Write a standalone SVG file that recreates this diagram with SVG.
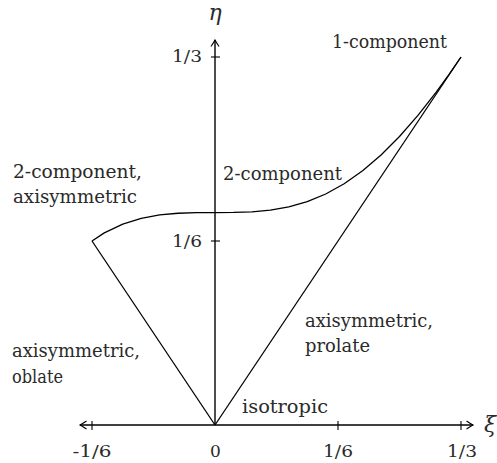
<svg xmlns="http://www.w3.org/2000/svg" width="497" height="463" viewBox="0 0 497 463">
<defs>
<style>
.ln{fill:none;stroke:#000;stroke-width:1.3;stroke-linejoin:round}
.ax{fill:none;stroke:#000;stroke-width:1.4}
.tk{fill:none;stroke:#000;stroke-width:1.1}
.t{font-family:'DejaVu Serif','Liberation Serif',serif;fill:#2a2a2a}
.lb{font-size:19px}
.nm{font-size:17px}
.sym{font-size:22px;font-style:italic}
</style>
<marker id="arr" viewBox="-8 -5 10 10" refX="0" refY="0" markerWidth="10" markerHeight="10" markerUnits="userSpaceOnUse" orient="auto-start-reverse">
<path d="M-6.5,-4 Q-2,-1 0,0 Q-2,1 -6.5,4" fill="none" stroke="#000" stroke-width="1.1"/>
</marker>
</defs>
<rect width="497" height="463" fill="#fff"/>
<g id="axes">
<line class="ax" x1="80" y1="425" x2="473" y2="425" marker-start="url(#arr)" marker-end="url(#arr)"/>
<line class="ax" x1="215" y1="425" x2="215" y2="40" marker-end="url(#arr)"/>
<g id="ticks">
<line class="tk" x1="92" y1="421" x2="92" y2="430"/>
<line class="tk" x1="338" y1="421" x2="338" y2="430"/>
<line class="tk" x1="461" y1="421" x2="461" y2="430"/>
<line class="tk" x1="211" y1="241" x2="220" y2="241"/>
<line class="tk" x1="211" y1="57" x2="220" y2="57"/>
</g>
<text class="t nm" x="92" y="457" text-anchor="middle" textLength="39" lengthAdjust="spacingAndGlyphs">-1/6</text>
<text class="t nm" x="215.5" y="457" text-anchor="middle">0</text>
<text class="t nm" x="338" y="457" text-anchor="middle" textLength="30" lengthAdjust="spacingAndGlyphs">1/6</text>
<text class="t nm" x="462" y="457" text-anchor="middle" textLength="30" lengthAdjust="spacingAndGlyphs">1/3</text>
<text class="t nm" x="202" y="247" text-anchor="end" textLength="30" lengthAdjust="spacingAndGlyphs">1/6</text>
<text class="t nm" x="202" y="62" text-anchor="end" textLength="30" lengthAdjust="spacingAndGlyphs">1/3</text>
<text class="t sym" x="484" y="432">ξ</text>
<text class="t sym" x="215" y="20" text-anchor="middle" font-size="20">η</text>
</g>
<g id="connectors">
<line class="ln" x1="215" y1="425" x2="92" y2="241"/>
<line class="ln" x1="215" y1="425" x2="461" y2="57"/>
<polyline class="ln" points="92,241 104.3,232.9 122.75,224.05 141.2,218.35 159.65,214.97 178.1,213.25 196.55,212.62 215,212.53 233.45,212.45 251.9,211.82 270.35,210.13 288.8,206.87 307.25,201.61 325.7,193.99 344.15,183.74 362.6,170.75 381.05,154.98 399.5,136.5 417.95,115.42 436.4,91.9 448.7,74.92 461,57"/>
</g>
<g id="labels">
<text class="t lb" x="332" y="48" textLength="115" lengthAdjust="spacingAndGlyphs">1-component</text>
<text class="t lb" x="223" y="180" textLength="119" lengthAdjust="spacingAndGlyphs">2-component</text>
<text class="t lb" x="13" y="178" textLength="129" lengthAdjust="spacingAndGlyphs">2-component,</text>
<text class="t lb" x="13" y="203" textLength="124" lengthAdjust="spacingAndGlyphs">axisymmetric</text>
<text class="t lb" x="12" y="357" textLength="128" lengthAdjust="spacingAndGlyphs">axisymmetric,</text>
<text class="t lb" x="12" y="383" textLength="51" lengthAdjust="spacingAndGlyphs">oblate</text>
<text class="t lb" x="305" y="327" textLength="128" lengthAdjust="spacingAndGlyphs">axisymmetric,</text>
<text class="t lb" x="305" y="352" textLength="65" lengthAdjust="spacingAndGlyphs">prolate</text>
<text class="t lb" x="242" y="413" textLength="86" lengthAdjust="spacingAndGlyphs">isotropic</text>
</g>
</svg>
